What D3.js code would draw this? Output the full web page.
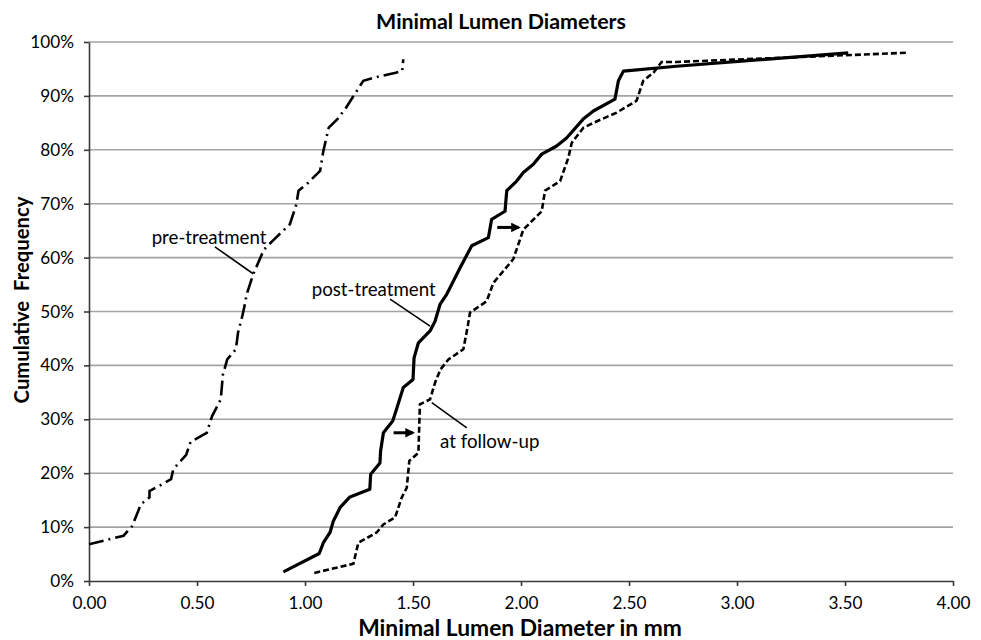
<!DOCTYPE html>
<html>
<head>
<meta charset="utf-8">
<script src="https://cdn.jsdelivr.net/npm/d3@7"></script>
<style>
  body { margin: 0; background: #fff; }
  text { font-family: Lato, "Open Sans", sans-serif; fill: #000; }
</style>
</head>
<body>
<svg id="chart" width="981" height="640"></svg>
<script>
// Minimal lumen diameters - cumulative frequency curves
// diameter in mm, cumulative frequency in %
var preTreatment = [
  [0.00, 6.8], [0.16, 8.4], [0.20, 10.2], [0.24, 14.2], [0.28, 15.5], [0.28, 16.7],
  [0.35, 18.2], [0.38, 18.9], [0.39, 20.7], [0.45, 23.4], [0.47, 25.8], [0.545, 27.5],
  [0.57, 30.6], [0.61, 33.7], [0.62, 38.3], [0.64, 41.1], [0.68, 43.0], [0.69, 46.1],
  [0.71, 49.2], [0.72, 51.0], [0.73, 53.2], [0.76, 56.9], [0.81, 61.5], [0.85, 63.1],
  [0.93, 66.2], [0.96, 69.9], [0.97, 72.4], [1.015, 73.9], [1.07, 76.1], [1.085, 79.8],
  [1.11, 84.1], [1.15, 85.7], [1.19, 87.8], [1.22, 89.7], [1.27, 92.8], [1.33, 93.5],
  [1.42, 94.3], [1.45, 94.6], [1.455, 96.8]
];

var postTreatment = [
  [0.90, 1.7], [1.066, 5.1], [1.085, 7.1], [1.116, 9.0], [1.131, 11.1], [1.162, 13.6],
  [1.208, 15.6], [1.30, 17.0], [1.304, 19.8], [1.347, 21.9], [1.35, 24.1], [1.363, 27.5],
  [1.406, 29.7], [1.424, 31.9], [1.455, 35.9], [1.50, 37.4], [1.505, 41.4], [1.525, 44.2],
  [1.579, 46.4], [1.602, 48.2], [1.625, 51.3], [1.656, 53.2], [1.679, 55.0], [1.718, 58.1],
  [1.772, 62.2], [1.849, 63.7], [1.864, 67.1], [1.926, 68.6], [1.934, 72.4], [1.98, 74.2],
  [2.011, 75.8], [2.057, 77.3], [2.096, 79.2], [2.165, 80.7], [2.211, 82.2], [2.288, 85.7],
  [2.335, 87.2], [2.435, 89.4], [2.451, 92.8], [2.474, 94.6], [2.72, 95.5], [3.515, 98.0]
];

var followUp = [
  [1.043, 1.5], [1.224, 3.2], [1.247, 7.1], [1.332, 9.0], [1.363, 10.5], [1.417, 11.8],
  [1.448, 15.5], [1.471, 17.3], [1.483, 22.3], [1.525, 23.8], [1.532, 32.8], [1.579, 33.7],
  [1.602, 36.8], [1.628, 39.3], [1.664, 41.1], [1.733, 43.0], [1.75, 46.5], [1.764, 49.8],
  [1.841, 51.9], [1.872, 55.3], [1.964, 59.7], [2.011, 65.2], [2.096, 68.6], [2.111, 72.4],
  [2.181, 74.2], [2.219, 78.5], [2.235, 81.3], [2.289, 84.1], [2.335, 85.0], [2.443, 86.9],
  [2.535, 89.1], [2.566, 92.8], [2.613, 94.3], [2.651, 96.3], [2.72, 96.3], [3.785, 98.0]
];

var xTicks = [0, 0.5, 1, 1.5, 2, 2.5, 3, 3.5, 4];
var yTicks = [0, 10, 20, 30, 40, 50, 60, 70, 80, 90, 100];

// callouts: label, text anchor point, leader line [from, to]
var callouts = [
  { label: "pre-treatment", at: [0.29, 62.5], leader: [[0.583, 62.0], [0.76, 57.0]] },
  { label: "post-treatment", at: [1.031, 52.9], leader: [[1.394, 52.3], [1.579, 47.3]] },
  { label: "at follow-up", at: [1.625, 24.7], leader: [[1.749, 28.4], [1.587, 33.1]] }
];
// shift arrows between post-treatment and follow-up
var shifts = [
  [[1.41, 27.5], [1.50, 27.5]],
  [[1.89, 65.6], [1.99, 65.6]]
];

var svg = d3.select('#chart');

var x = d3.scaleLinear().domain([0, 4]).range([89, 953]);
var y = d3.scaleLinear().domain([0, 100]).range([581, 42]);

// scale a text's font so it spans a given width
function fitWidth(sel, width, size) {
  sel.attr('font-size', size);
  var len = sel.node().getComputedTextLength();
  var s = size * width / len;
  sel.attr('font-size', s);
  return s;
}

// gridlines
svg.append('g')
  .selectAll('line')
  .data(yTicks.slice(1))
  .enter().append('line')
  .attr('x1', x(0)).attr('x2', x(4))
  .attr('y1', function(d) { return y(d); })
  .attr('y2', function(d) { return y(d); })
  .attr('stroke', '#a3a3a3')
  .attr('stroke-width', 1.6);

// axes
var xAxis = svg.append('g')
  .attr('transform', 'translate(0,' + y(0) + ')')
  .call(d3.axisBottom(x).tickValues(xTicks).tickFormat(d3.format('.2f')).tickSize(5).tickSizeOuter(0));

var yAxis = svg.append('g')
  .attr('transform', 'translate(' + x(0) + ',0)')
  .call(d3.axisLeft(y).tickValues(yTicks).tickFormat(function(d) { return d + '%'; }).tickSize(5).tickSizeOuter(0));

[xAxis, yAxis].forEach(function(a) {
  a.select('.domain').attr('stroke', '#3a3a3a').attr('stroke-width', 1.6);
  a.selectAll('.tick line').attr('stroke', '#3a3a3a').attr('stroke-width', 1.6);
  a.selectAll('text').attr('font-family', 'Lato, sans-serif').attr('fill', '#000');
});

var tickSize = fitWidth(xAxis.select('.tick text'), 34, 17);
xAxis.selectAll('text').attr('font-size', tickSize).attr('dy', null).attr('y', 28);
xAxis.attr('font-size', null);
yAxis.selectAll('text').attr('font-size', tickSize).attr('x', -15);
yAxis.attr('font-size', null);

// curves
var line = d3.line()
  .x(function(d) { return x(d[0]); })
  .y(function(d) { return y(d[1]); });

svg.append('path').datum(preTreatment)
  .attr('d', line)
  .attr('fill', 'none')
  .attr('stroke', '#000')
  .attr('stroke-width', 2.6)
  .attr('stroke-dasharray', '15,5,2,5');

svg.append('path').datum(followUp)
  .attr('d', line)
  .attr('fill', 'none')
  .attr('stroke', '#000')
  .attr('stroke-width', 2.6)
  .attr('stroke-dasharray', '6,3');

svg.append('path').datum(postTreatment)
  .attr('d', line)
  .attr('fill', 'none')
  .attr('stroke', '#000')
  .attr('stroke-width', 3.2)
  .attr('stroke-linejoin', 'round');

// callouts
var labelSize = null;
callouts.forEach(function(c) {
  svg.append('line')
    .attr('x1', x(c.leader[0][0])).attr('y1', y(c.leader[0][1]))
    .attr('x2', x(c.leader[1][0])).attr('y2', y(c.leader[1][1]))
    .attr('stroke', '#000')
    .attr('stroke-width', 1.6);
  var t = svg.append('text')
    .attr('x', x(c.at[0]))
    .attr('y', y(c.at[1]))
    .text(c.label);
  if (labelSize == null) labelSize = fitWidth(t, 115, 17);
  t.attr('font-size', labelSize);
});

// arrows
svg.append('defs').append('marker')
  .attr('id', 'head')
  .attr('viewBox', '0 0 10 10')
  .attr('refX', 8).attr('refY', 5)
  .attr('markerWidth', 3.2).attr('markerHeight', 3.2)
  .attr('orient', 'auto')
  .append('path')
  .attr('d', 'M0,0 L10,5 L0,10 z')
  .attr('fill', '#000');

svg.append('g')
  .selectAll('line')
  .data(shifts)
  .enter().append('line')
  .attr('x1', function(d) { return x(d[0][0]); })
  .attr('y1', function(d) { return y(d[0][1]); })
  .attr('x2', function(d) { return x(d[1][0]); })
  .attr('y2', function(d) { return y(d[1][1]); })
  .attr('stroke', '#000')
  .attr('stroke-width', 3)
  .attr('marker-end', 'url(#head)');

// titles
var title = svg.append('text')
  .attr('x', 501).attr('y', 29)
  .attr('text-anchor', 'middle')
  .attr('font-weight', 'bold')
  .text('Minimal Lumen Diameters');
fitWidth(title, 250, 18);

var xTitle = svg.append('text')
  .attr('x', 520).attr('y', 636)
  .attr('text-anchor', 'middle')
  .attr('font-weight', 'bold')
  .text('Minimal Lumen Diameter in mm');
fitWidth(xTitle, 324, 20);

var yTitle = svg.append('text')
  .attr('transform', 'translate(29,300) rotate(-90)')
  .attr('text-anchor', 'middle')
  .attr('font-weight', 'bold')
  .style('white-space', 'pre')
  .text('Cumulative  Frequency');
fitWidth(yTitle, 207, 19);
</script>
</body>
</html>
